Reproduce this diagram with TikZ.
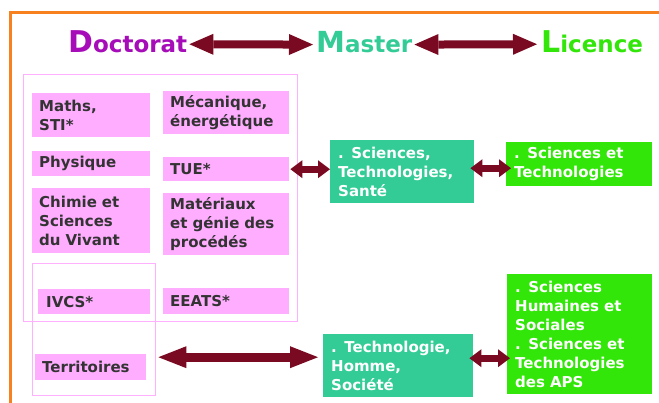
\documentclass[tikz,border=0pt]{standalone}
\usepackage{fontspec}
\setmainfont{DejaVu Sans}
\usetikzlibrary{arrows.meta}
\definecolor{myorange}{HTML}{F7801F}
\definecolor{mymaroon}{HTML}{7A0A22}
\definecolor{mypink}{HTML}{FFADFF}
\definecolor{mypinkline}{HTML}{FFB0FF}
\definecolor{mypurple}{HTML}{A60DB8}
\definecolor{myteal}{HTML}{33CC96}
\definecolor{mygreen}{HTML}{33E60A}
\definecolor{mytext}{HTML}{333333}
\tikzset{
  pinkbox/.style={anchor=north west, fill=mypink, inner xsep=7pt, inner ysep=0pt,
    align=left, text=mytext, font=\fontsize{15}{19}\selectfont\bfseries},
  tealbox/.style={anchor=north west, fill=myteal, inner xsep=8pt, inner ysep=0pt,
    align=left, text=white, font=\fontsize{15}{19}\selectfont\bfseries},
  greenbox/.style={anchor=north west, fill=mygreen, inner xsep=8pt, inner ysep=0pt,
    align=left, text=white, font=\fontsize{15}{19}\selectfont\bfseries},
  outlinebox/.style={anchor=north west, draw=mypinkline, line width=1pt, inner sep=0pt},
  titlearr/.style={mymaroon, line width=8pt,
    {Triangle[length=24pt,width=21pt,line width=0pt]}-{Triangle[length=24pt,width=21pt,line width=0pt]}},
  bigarr/.style={mymaroon, line width=9pt,
    {Triangle[length=28pt,width=22pt,line width=0pt]}-{Triangle[length=28pt,width=22pt,line width=0pt]}},
  smallarr/.style={mymaroon, line width=7pt,
    {Triangle[length=12pt,width=18pt,line width=0pt]}-{Triangle[length=12pt,width=18pt,line width=0pt]}},
  titletext/.style={anchor=base west, inner sep=0pt, font=\bfseries}
}
\begin{document}
\begin{tikzpicture}[x=1pt,y=-1pt]
\useasboundingbox (0,0) rectangle (659,403);
\fill[white] (0,0) rectangle (659,403);
% orange frame
\draw[myorange, line width=3pt] (10.5,405) -- (10.5,12.5) -- (661,12.5);

% title
\node[titletext, text=mypurple] (doc) at (68,53) {\fontsize{30}{30}\selectfont D\fontsize{23}{23}\selectfont octorat};
\node[titletext, text=myteal] (mas) at (316,53) {\fontsize{29}{29}\selectfont M\fontsize{23}{23}\selectfont aster};
\node[titletext, text=mygreen] (lic) at (541,53) {\fontsize{30}{30}\selectfont L\fontsize{23}{23}\selectfont icence};
\draw[titlearr] ([shift={(2pt,-2pt)}]doc.east) -- ([shift={(-3pt,-2pt)}]mas.west);
\draw[titlearr] ([shift={(2pt,-2pt)}]mas.east) -- ([shift={(-4pt,-2pt)}]lic.west);

% outline groups
\node[outlinebox, minimum width=274pt, minimum height=247pt] (grp) at (23,74) {};
\node[outlinebox, minimum width=123pt, minimum height=132pt] (grp2) at (32,263) {};

% doctorat boxes
\node[pinkbox, text width=104pt, minimum height=44pt] (maths) at (32,93) {Maths,\\STI*};
\node[pinkbox, text width=112pt, minimum height=43pt] (meca) at (163,91) {Mécanique,\\énergétique};
\node[pinkbox, text width=104pt, minimum height=25pt] (phys) at (32,151) {Physique};
\node[pinkbox, text width=112pt, minimum height=24pt] (tue) at (163,157) {TUE*};
\node[pinkbox, text width=104pt, minimum height=65pt] (chim) at (32,188) {Chimie et\\Sciences\\du Vivant};
\node[pinkbox, text width=112pt, minimum height=62pt] (mat) at (163,193) {Matériaux\\et génie des\\procédés};
\node[pinkbox, text width=96pt, inner xsep=8pt, minimum height=25pt] (ivcs) at (38,289) {IVCS*};
\node[pinkbox, text width=112pt, minimum height=26pt] (eeats) at (163,288) {EEATS*};
\node[pinkbox, text width=97pt, minimum height=26pt] (terr) at (35,354) {Territoires};

% master boxes
\node[tealbox, text width=128pt, minimum height=63pt] (sts) at (330,140) {. Sciences,\\Technologies,\\Santé};
\node[tealbox, text width=134pt, minimum height=63pt] (ths) at (323,334) {. Technologie,\\Homme,\\Société};

% licence boxes
\node[greenbox, text width=130pt, minimum height=44pt] (lic1) at (506,142) {. Sciences et\\Technologies};
\node[greenbox, text width=129pt, minimum height=120pt] (lic2) at (507,274) {. Sciences\\Humaines et\\Sociales\\. Sciences et\\Technologies\\des APS};

% connectors
\draw[smallarr] ([xshift=1pt]tue.east) -- (tue.east -| sts.west);
\draw[smallarr] ([shift={(-4pt,3.5pt)}]sts.east) -- ([shift={(5pt,-4pt)}]lic1.west);
\draw[bigarr] ([shift={(12pt,10pt)}]terr.east) -- ([shift={(-5pt,8.5pt)}]ths.west);
\draw[smallarr] ([shift={(-4pt,7.5pt)}]ths.east) -- ([shift={(3pt,-24pt)}]lic2.west);
\end{tikzpicture}
\end{document}
